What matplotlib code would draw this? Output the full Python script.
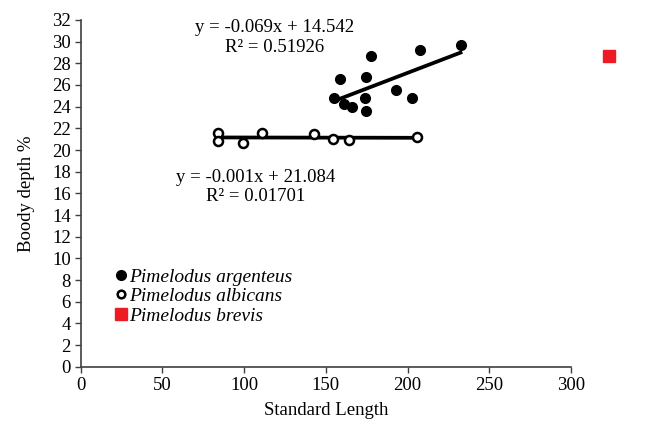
import numpy as np
import matplotlib
matplotlib.use('Agg')
import matplotlib.pyplot as plt
from matplotlib.lines import Line2D

plt.rcParams['font.family'] = ['Liberation Serif', 'DejaVu Serif']

# Data
argenteus_x = [232.4, 207.8, 177.9, 158.9, 174.4, 193.2, 155.3, 174.0, 202.7, 161.0, 166.0, 174.4]
argenteus_y = [29.71, 29.22, 28.64, 26.58, 26.71, 25.56, 24.77, 24.77, 24.77, 24.24, 23.99, 23.59]

albicans_x = [84.2, 84.2, 99.1, 111.1, 142.5, 154.7, 163.9, 205.8]
albicans_y = [21.54, 20.86, 20.67, 21.54, 21.48, 20.98, 20.92, 21.17]

brevis_x = [323.0]
brevis_y = [28.7]

eq_argenteus = "y = -0.069x + 14.542\nR² = 0.51926"
eq_albicans = "y = -0.001x + 21.084\nR² = 0.01701"

fig = plt.figure(figsize=(6.51, 4.21), dpi=100)
ax = fig.add_axes([0.1237, 0.1287, 0.7535, 0.824])

# scatter points
ax.plot(argenteus_x, argenteus_y, 'o', color='black', markersize=7, zorder=3)
ax.plot(albicans_x, albicans_y, 'o', markerfacecolor='white', markeredgecolor='black',
        markeredgewidth=1.8, markersize=6.5, zorder=3)
ax.plot(brevis_x, brevis_y, 's', color='#ED1C24', markersize=9, clip_on=False, zorder=3)

# linear trend lines
for xs, ys in [(argenteus_x, argenteus_y), (albicans_x, albicans_y)]:
    xs = np.array(xs)
    k, b = np.polyfit(xs, ys, 1)
    xl = np.array([xs.min(), xs.max()])
    ax.plot(xl, k * xl + b, color='black', lw=2.7, zorder=2)

ax.text(118.8, 30.4, eq_argenteus, ha='center', va='center', fontsize=13.5,
        multialignment='center', linespacing=1.2)
ax.text(107.2, 16.6, eq_albicans, ha='center', va='center', fontsize=13.5,
        multialignment='center', linespacing=1.2)

ax.set_xlim(0, 300)
ax.set_ylim(0, 32)
ax.set_xticks(np.arange(0, 301, 50))
ax.set_yticks(np.arange(0, 33, 2))
ax.tick_params(direction='out', length=4, width=1, color='#404040', labelsize=13.5, pad=3)
for s in ['top', 'right']:
    ax.spines[s].set_visible(False)
for s in ['left', 'bottom']:
    ax.spines[s].set_color('#404040')
    ax.spines[s].set_linewidth(1.2)

ax.set_xlabel('Standard Length', fontsize=13.5, labelpad=6)
ax.set_ylabel('Boody depth %', fontsize=13.5, labelpad=12)

handles = [
    Line2D([], [], marker='o', ls='', color='black', markersize=7),
    Line2D([], [], marker='o', ls='', markerfacecolor='white', markeredgecolor='black',
           markeredgewidth=1.8, markersize=5.5),
    Line2D([], [], marker='s', ls='', color='#ED1C24', markersize=9),
]
labels = ['Pimelodus argenteus', 'Pimelodus albicans', 'Pimelodus brevis']
leg = ax.legend(handles, labels, loc='upper left', bbox_to_anchor=(0.035, 0.335),
                frameon=False, handlelength=0.6, handletextpad=0.1, labelspacing=0.1,
                prop={'style': 'italic', 'size': 14})

fig.savefig('out.png', dpi=100)
